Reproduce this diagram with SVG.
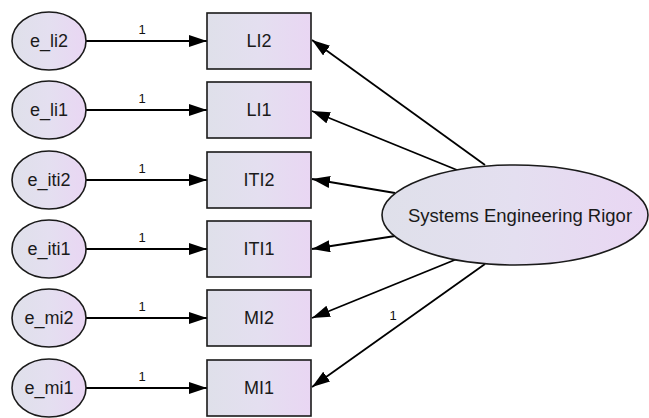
<svg xmlns="http://www.w3.org/2000/svg" width="649" height="418" viewBox="0 0 649 418">
<style>
.shape{stroke:#1a1a1a;stroke-width:1.6;fill:url(#g)}
.lbl{font-family:"Liberation Sans",Arial,sans-serif;font-size:18px;fill:#1a1a1a;text-anchor:middle;dominant-baseline:central}
.big{font-size:18.5px}
.w{font-family:"Liberation Sans",Arial,sans-serif;font-size:13px;fill:#111;text-anchor:middle}
.c{stroke:#000;stroke-width:1.8;fill:none;marker-end:url(#ah)}
</style>
<defs>
<linearGradient id="g" x1="0" y1="0" x2="1" y2="0">
<stop offset="0" stop-color="#dfe0ea"/>
<stop offset="0.5" stop-color="#e4dff0"/>
<stop offset="1" stop-color="#e9d6f3"/>
</linearGradient>
<marker id="ah" markerUnits="userSpaceOnUse" markerWidth="20" markerHeight="14" refX="18" refY="6" orient="auto">
<path d="M0,0 L18,6 L0,12 Z" fill="#000"/>
</marker>
</defs>
<g id="connectors">
<line class="c" x1="86" y1="41" x2="207" y2="41"/>
<line class="c" x1="86" y1="110" x2="207" y2="110"/>
<line class="c" x1="86" y1="180" x2="207" y2="180"/>
<line class="c" x1="86" y1="249" x2="207" y2="249"/>
<line class="c" x1="86" y1="318" x2="207" y2="318"/>
<line class="c" x1="86" y1="388" x2="207" y2="388"/>
<line class="c" x1="485" y1="165" x2="312" y2="40"/>
<line class="c" x1="457" y1="170" x2="312" y2="111"/>
<line class="c" x1="395" y1="193" x2="312" y2="179"/>
<line class="c" x1="395" y1="236" x2="312" y2="249"/>
<line class="c" x1="457" y1="259" x2="312" y2="318"/>
<line class="c" x1="485" y1="264" x2="312" y2="387"/>
<text class="w" x="142" y="34">1</text>
<text class="w" x="142" y="103">1</text>
<text class="w" x="142" y="173">1</text>
<text class="w" x="142" y="242">1</text>
<text class="w" x="142" y="311">1</text>
<text class="w" x="142" y="381">1</text>
<text class="w" x="393" y="320">1</text>
</g>
<g id="e_li2"><ellipse class="shape" cx="49" cy="41" rx="37" ry="29"/><text class="lbl" x="49" y="41">e_li2</text></g>
<g id="e_li1"><ellipse class="shape" cx="49" cy="110" rx="37" ry="29"/><text class="lbl" x="49" y="110">e_li1</text></g>
<g id="e_iti2"><ellipse class="shape" cx="49" cy="180" rx="37" ry="29"/><text class="lbl" x="49" y="180">e_iti2</text></g>
<g id="e_iti1"><ellipse class="shape" cx="49" cy="249" rx="37" ry="29"/><text class="lbl" x="49" y="249">e_iti1</text></g>
<g id="e_mi2"><ellipse class="shape" cx="49" cy="318" rx="37" ry="29"/><text class="lbl" x="49" y="318">e_mi2</text></g>
<g id="e_mi1"><ellipse class="shape" cx="49" cy="388" rx="37" ry="29"/><text class="lbl" x="49" y="388">e_mi1</text></g>
<g id="LI2"><rect class="shape" x="207" y="13" width="104" height="56"/><text class="lbl" x="259" y="41">LI2</text></g>
<g id="LI1"><rect class="shape" x="207" y="82" width="104" height="56"/><text class="lbl" x="259" y="110">LI1</text></g>
<g id="ITI2"><rect class="shape" x="207" y="152" width="104" height="56"/><text class="lbl" x="259" y="180">ITI2</text></g>
<g id="ITI1"><rect class="shape" x="207" y="221" width="104" height="56"/><text class="lbl" x="259" y="249">ITI1</text></g>
<g id="MI2"><rect class="shape" x="207" y="290" width="104" height="56"/><text class="lbl" x="259" y="318">MI2</text></g>
<g id="MI1"><rect class="shape" x="207" y="360" width="104" height="56"/><text class="lbl" x="259" y="388">MI1</text></g>
<g id="SER"><ellipse class="shape" cx="515" cy="215" rx="133" ry="50"/><text class="lbl big" x="520" y="215">Systems Engineering Rigor</text></g>
</svg>
